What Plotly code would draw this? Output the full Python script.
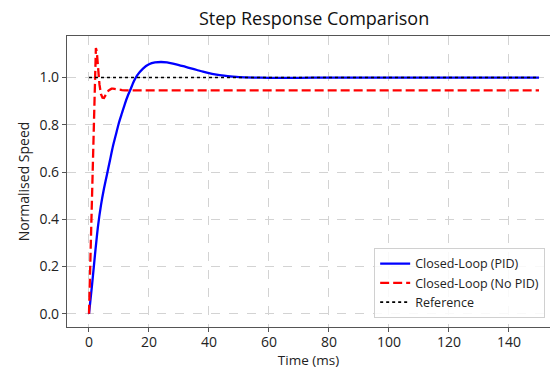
import plotly.graph_objects as go

# PID closed-loop response (time in ms, normalised speed)
t_pid = [0, 1, 2, 3, 4, 5, 6, 7, 8, 9, 10, 11, 12, 13, 14, 15, 16, 18, 20, 22, 24, 26, 28, 30, 32, 34, 36, 38, 40,
         42, 45, 48, 50, 55, 60, 65, 70, 80, 90, 100, 110, 120, 130, 140, 150]
y_pid = [0.0, 0.12, 0.25, 0.37, 0.46, 0.53, 0.59, 0.65, 0.71, 0.76, 0.81, 0.85, 0.89, 0.925, 0.955, 0.985, 1.008,
         1.038, 1.056, 1.064, 1.066, 1.064, 1.059, 1.053, 1.046, 1.039, 1.032, 1.025, 1.019,
         1.014, 1.008, 1.004, 1.002, 1.0, 0.999, 0.999, 0.999, 1.0, 1.0, 1.0, 1.0, 1.0, 1.0, 1.0, 1.0]

# No-PID closed-loop response
t_nopid = [0, 0.5, 1, 1.5, 2, 2.3, 2.6, 3, 3.5, 4, 4.5, 5, 5.5, 6, 6.5, 7, 7.5, 8, 9, 10, 11, 12, 15, 20, 30,
           50, 75, 100, 125, 150]
y_nopid = [0.0, 0.25, 0.5, 0.78, 1.05, 1.125, 1.11, 1.04, 0.97, 0.93, 0.915, 0.914, 0.922, 0.935, 0.945, 0.951, 0.953,
           0.953, 0.95, 0.948, 0.947, 0.946, 0.946, 0.946, 0.946, 0.946, 0.946, 0.946, 0.946, 0.946]

# Reference level
t_ref = [0, 150]
y_ref = [1.0, 1.0]

x_ticks = [0, 20, 40, 60, 80, 100, 120, 140]
y_ticks = [0.0, 0.2, 0.4, 0.6, 0.8, 1.0]

FONT = "Open Sans"

fig = go.Figure()
fig.add_trace(go.Scatter(x=t_pid, y=y_pid, mode="lines", name="Closed-Loop (PID)",
                         line=dict(color="#0000ff", width=2.3, shape="spline", smoothing=0.6)))
fig.add_trace(go.Scatter(x=t_nopid, y=y_nopid, mode="lines", name="Closed-Loop (No PID)",
                         line=dict(color="#ff0000", width=2.3, dash="9px,4px")))
fig.add_trace(go.Scatter(x=t_ref, y=y_ref, mode="lines", name="Reference",
                         line=dict(color="black", width=1.6, dash="dot")))

fig.update_layout(
    width=550, height=369, autosize=False,
    margin=dict(l=67, r=0, t=36, b=42, autoexpand=False),
    paper_bgcolor="white", plot_bgcolor="white",
    font=dict(family=FONT, color="#222", size=14),
    title=dict(text="Step Response Comparison", x=0.571, xanchor="center", y=0.95, yanchor="middle",
               font=dict(size=18, color="#111")),
    showlegend=True,
    legend=dict(x=0.99, y=0.031, xanchor="right", yanchor="bottom",
                bgcolor="rgba(255,255,255,0.85)", bordercolor="#d0d0d0", borderwidth=1,
                font=dict(size=12.5, color="#222"), tracegroupgap=0, itemwidth=30),
)
fig.update_xaxes(
    range=[-7.33, 153.67], tickvals=x_ticks, ticktext=[str(v) for v in x_ticks],
    tickfont=dict(size=14), ticklabelstandoff=-2,
    showgrid=True, gridcolor="#d3d3d3", griddash="dash", gridwidth=1,
    showline=True, linecolor="#555", linewidth=1.2, mirror=True,
    ticks="outside", ticklen=4, tickcolor="#555", zeroline=False, automargin=False,
    title=dict(text="Time (ms)", font=dict(size=13.5), standoff=4),
)
fig.update_yaxes(
    range=[-0.056, 1.176], tickvals=y_ticks, ticktext=[f"{v:.1f}" for v in y_ticks],
    tickfont=dict(size=14),
    showgrid=True, gridcolor="#d3d3d3", griddash="dash", gridwidth=1,
    showline=True, linecolor="#555", linewidth=1.2, mirror=False,
    ticks="outside", ticklen=4, tickcolor="#555", zeroline=False, automargin=False,
    title=dict(text="Normalised Speed", font=dict(size=14), standoff=6),
)

fig.write_html("out.html", config={"displayModeBar": False},
               post_script="document.body.style.margin='0';document.body.style.padding='0';")
